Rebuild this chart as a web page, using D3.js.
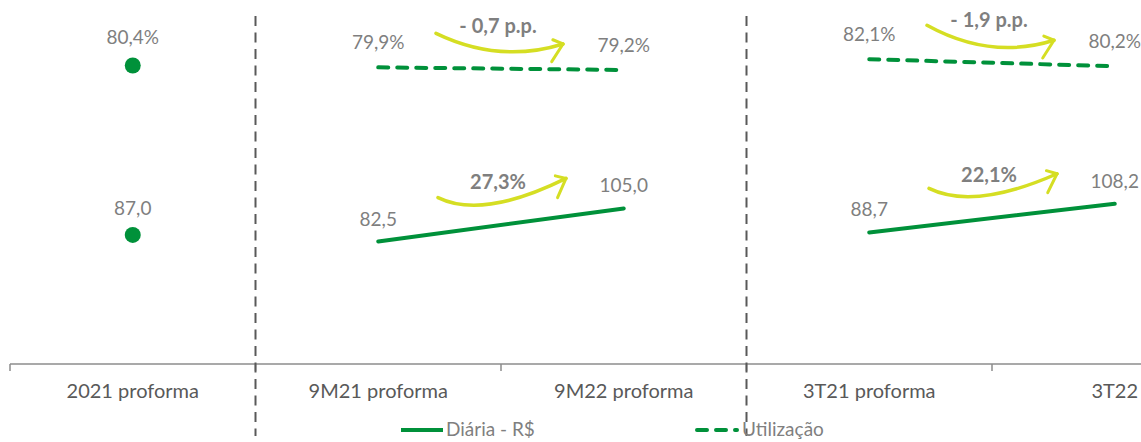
<!DOCTYPE html>
<html>
<head>
<meta charset="utf-8">
<script src="https://cdn.jsdelivr.net/npm/d3@7"></script>
<style>
  body { margin: 0; background: #fff; }
  svg { display: block; font-family: Lato, "Open Sans", sans-serif; }
</style>
</head>
<body>
<div id="chart"></div>
<script>
// chart data
var categories = ["2021 proforma", "9M21 proforma", "9M22 proforma", "3T21 proforma", "3T22"];
var diaria = [87.0, 82.5, 105.0, 88.7, 108.2];
var utilizacao = [80.4, 79.9, 79.2, 82.1, 80.2];
var diariaLabels = ["87,0", "82,5", "105,0", "88,7", "108,2"];
var utilLabels = ["80,4%", "79,9%", "79,2%", "82,1%", "80,2%"];
var segments = [[1, 2], [3, 4]];          // pairs joined by a line
var separators = [1, 3];                  // dashed divider before these
var diariaChange = ["27,3%", "22,1%"];
var utilChange = ["- 0,7 p.p.", "- 1,9 p.p."];
var seriesNames = ["Diária - R$", "Utilização"];

var width = 1141,
    height = 442;

var green = "#00913a",
    arrowColor = "#d5de23",
    textGrey = "#7f7f7f";

var svg = d3.select("#chart").append("svg")
    .attr("width", width)
    .attr("height", height);

var x = d3.scaleBand()
    .domain(categories)
    .range([10, 1237.5]);

var yD = d3.scaleLinear().domain([0, 250]).range([363, -5]);   // diária
var yU = d3.scaleLinear().domain([0, 100]).range([363, -7]);   // utilização

function cx(i) { return x(categories[i]) + x.bandwidth() / 2; }

// axis
var axisY = 364;
var axis = svg.append("g")
    .attr("transform", "translate(0," + axisY + ")")
    .call(d3.axisBottom(x).tickSize(0).tickPadding(20));
axis.select(".domain").remove();
axis.selectAll("text")
    .attr("font-size", 20)
    .attr("font-family", "Lato, sans-serif")
    .attr("fill", "#595959");

svg.append("line")
    .attr("x1", 10).attr("x2", width)
    .attr("y1", axisY).attr("y2", axisY)
    .attr("stroke", "#8c8c8c").attr("stroke-width", 1.5);

// ticks on band boundaries
svg.selectAll(".btick")
    .data(d3.range(categories.length + 1))
    .enter().append("line")
    .attr("class", "btick")
    .attr("x1", function(i) { return x.range()[0] + i * x.step(); })
    .attr("x2", function(i) { return x.range()[0] + i * x.step(); })
    .attr("y1", axisY).attr("y2", axisY + 7)
    .attr("stroke", "#8c8c8c").attr("stroke-width", 1.5);

// dashed dividers
svg.selectAll(".sep")
    .data(separators)
    .enter().append("line")
    .attr("x1", function(i) { return x(categories[i]); })
    .attr("x2", function(i) { return x(categories[i]); })
    .attr("y1", 16).attr("y2", 436)
    .attr("stroke", "#595959")
    .attr("stroke-width", 2)
    .attr("stroke-dasharray", "10,6.5");

// lines
var lineD = d3.line().x(cx).y(function(i) { return yD(diaria[i]); });
var lineU = d3.line().x(cx).y(function(i) { return yU(utilizacao[i]); });

svg.selectAll(".lineD")
    .data(segments)
    .enter().append("path")
    .attr("d", lineD)
    .attr("fill", "none")
    .attr("stroke", green)
    .attr("stroke-width", 4)
    .attr("stroke-linecap", "round");

svg.selectAll(".lineU")
    .data(segments)
    .enter().append("path")
    .attr("d", lineU)
    .attr("fill", "none")
    .attr("stroke", green)
    .attr("stroke-width", 4)
    .attr("stroke-linecap", "round")
    .attr("stroke-dasharray", "10,9");

// single points (not part of any segment) get a marker
var joined = d3.merge(segments);
var single = d3.range(categories.length).filter(function(i) { return joined.indexOf(i) < 0; });

svg.selectAll(".dotD")
    .data(single).enter().append("circle")
    .attr("cx", cx).attr("cy", function(i) { return yD(diaria[i]); })
    .attr("r", 8).attr("fill", green);

svg.selectAll(".dotU")
    .data(single).enter().append("circle")
    .attr("cx", cx).attr("cy", function(i) { return yU(utilizacao[i]); })
    .attr("r", 8).attr("fill", green);

// value labels
function gap(i, base) { return single.indexOf(i) >= 0 ? base + 4 : base; }

svg.selectAll(".labD")
    .data(d3.range(categories.length)).enter().append("text")
    .attr("x", cx)
    .attr("y", function(i) { return yD(diaria[i]) - gap(i, 16); })
    .attr("text-anchor", "middle")
    .attr("font-size", 19)
    .attr("fill", textGrey)
    .text(function(i) { return diariaLabels[i]; });

svg.selectAll(".labU")
    .data(d3.range(categories.length)).enter().append("text")
    .attr("x", cx)
    .attr("y", function(i) { return yU(utilizacao[i]) - gap(i, 18); })
    .attr("text-anchor", "middle")
    .attr("font-size", 19)
    .attr("fill", textGrey)
    .text(function(i) { return utilLabels[i]; });

// curved change arrows
function drawArrow(S, C, E) {
  var g = svg.append("g");
  g.append("path")
    .attr("d", "M" + S[0] + "," + S[1] + "Q" + C[0] + "," + C[1] + " " + E[0] + "," + E[1])
    .attr("fill", "none")
    .attr("stroke", arrowColor)
    .attr("stroke-width", 3.5)
    .attr("stroke-linecap", "round");
  var tx = E[0] - C[0], ty = E[1] - C[1];
  var len = Math.sqrt(tx * tx + ty * ty);
  var bx = -tx / len, by = -ty / len;
  var arms = [40, -40].map(function(a) {
    var r = a * Math.PI / 180;
    return [bx * Math.cos(r) - by * Math.sin(r), bx * Math.sin(r) + by * Math.cos(r)];
  });
  arms.sort(function(a, b) { return a[1] - b[1]; });
  var lens = [11, 21];
  arms.forEach(function(a, k) {
    g.append("line")
      .attr("x1", E[0]).attr("y1", E[1])
      .attr("x2", E[0] + a[0] * lens[k]).attr("y2", E[1] + a[1] * lens[k])
      .attr("stroke", arrowColor)
      .attr("stroke-width", 3)
      .attr("stroke-linecap", "round");
  });
}

function annotate(values, y, texts, cfg) {
  segments.forEach(function(seg, k) {
    var mid = (cx(seg[0]) + cx(seg[1])) / 2;
    var S = [mid - cfg.left, y(values[seg[0]]) - cfg.up0];
    var E = [mid + cfg.right, y(values[seg[1]]) - cfg.up1];
    var C = [S[0] + cfg.frac * (E[0] - S[0]), Math.max(S[1], E[1]) + cfg.sag];
    drawArrow(S, C, E);
    svg.append("text")
      .attr("x", mid - 3)
      .attr("y", (S[1] + E[1]) / 2 + cfg.labelDy)
      .attr("text-anchor", "middle")
      .attr("font-size", 20)
      .attr("font-weight", "bold")
      .attr("fill", textGrey)
      .text(texts[k]);
  });
}

annotate(utilizacao, yU, utilChange, { left: 65, right: 62, up0: 34, up1: 26, frac: 0.5, sag: 20, labelDy: -6 });
annotate(diaria, yD, diariaChange, { left: 63, right: 65, up0: 44, up1: 30, frac: 0.35, sag: 22, labelDy: 1 });

// legend
var legend = svg.append("g");
var legendX = [401, 697];
seriesNames.forEach(function(name, k) {
  legend.append("line")
    .attr("x1", legendX[k]).attr("x2", legendX[k] + (k === 0 ? 42 : 40))
    .attr("y1", 430).attr("y2", 430)
    .attr("stroke", green)
    .attr("stroke-width", 4)
    .attr("stroke-linecap", k === 0 ? "butt" : "round")
    .attr("stroke-dasharray", k === 0 ? null : "10,9");
  legend.append("text")
    .attr("x", legendX[k] + 45)
    .attr("y", 436)
    .attr("font-size", 19)
    .attr("fill", textGrey)
    .text(name);
});
</script>
</body>
</html>
